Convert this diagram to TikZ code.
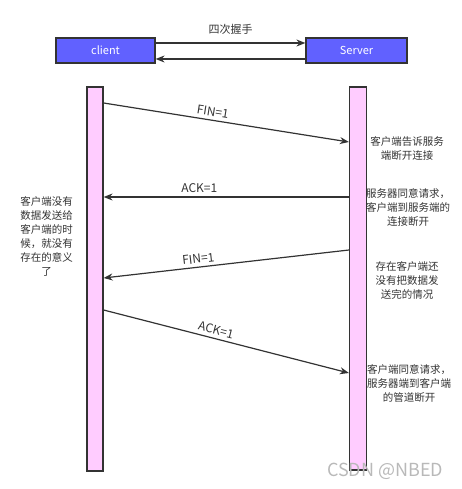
\documentclass[tikz,border=0pt]{standalone}
\usepackage{fontspec}
\setmainfont{Noto Sans CJK SC}
\usetikzlibrary{arrows.meta}
\definecolor{boxblue}{HTML}{6161FF}
\definecolor{barpink}{HTML}{FFCCFF}
\definecolor{linegray}{HTML}{333333}

\begin{document}
\begin{tikzpicture}[x=1pt, y=-1pt, font=\fontsize{10.5}{14}\selectfont,
  endpoint/.style={draw=linegray, fill=boxblue, line width=1.2pt, inner sep=0pt,
    minimum height=25pt, text=white, font=\fontsize{11}{13}\selectfont},
  lifeline/.style={draw=linegray, fill=barpink, line width=1.2pt, inner sep=0pt, minimum width=16pt},
  msg/.style={draw=linegray, line width=1.2pt, >={Stealth[length=9pt,width=7pt]}},
  note/.style={align=center, text=linegray},
  flag/.style={note, font=\fontsize{12}{14}\selectfont}]
  \useasboundingbox (0,0) rectangle (461,489);

  % Endpoints
  \node[endpoint, minimum width=99pt] (client) at (105.5,50.5) {client};
  \node[endpoint, minimum width=101pt] (server) at (356.5,50.5) {Server};
  \draw[msg, ->] (client.east |- 0,43) -- (server.west |- 0,43)
    node[midway, above=5pt, note, font=\fontsize{11}{13}\selectfont] (title) {四次握手};
  \draw[msg, <-] (client.east |- 0,59) -- (server.west |- 0,59);

  % Lifelines
  \node[lifeline, minimum height=384pt] (cline) at (95,279) {};
  \node[lifeline, minimum width=17pt, minimum height=383pt] (sline) at (358,278.5) {};

  % Messages
  \draw[msg, ->] (cline.east |- 0,103) -- (sline.west |- 0,142)
    node[pos=0.44, above, sloped, flag] (fin1) {FIN=1};
  \draw[msg, <-] (cline.east |- 0,197) -- (sline.west |- 0,197)
    node[pos=0.39, above, flag] (ack1) {ACK=1};
  \draw[msg, <-] (cline.east |- 0,278) -- (sline.west |- 0,250)
    node[pos=0.39, above, sloped, flag] (fin2) {FIN=1};
  \draw[msg, ->] (cline.east |- 0,310) -- (sline.west |- 0,373)
    node[pos=0.45, above, sloped, flag] (ack2) {ACK=1};

  % Notes
  \node[note] (n1) at (407,148.5) {客户端告诉服务\\端断开连接};
  \node[note] (n2) at (408,207.5) {服务器同意请求，\\客户端到服务端的\\连接断开};
  \node[note] (n3) at (407,280) {存在客户端还\\没有把数据发\\送完的情况};
  \node[note] (n4) at (409,383) {客户端同意请求，\\服务器端到客户端\\的管道断开};
  \node[note] (n0) at (46.5,236.5) {客户端没有\\数据发送给\\客户端的时\\候，就没有\\存在的意义\\了};

  \node[text=gray!55, font=\fontsize{18}{18}\selectfont] (mark) at (385,471) {CSDN @NBED};
\end{tikzpicture}
\end{document}
